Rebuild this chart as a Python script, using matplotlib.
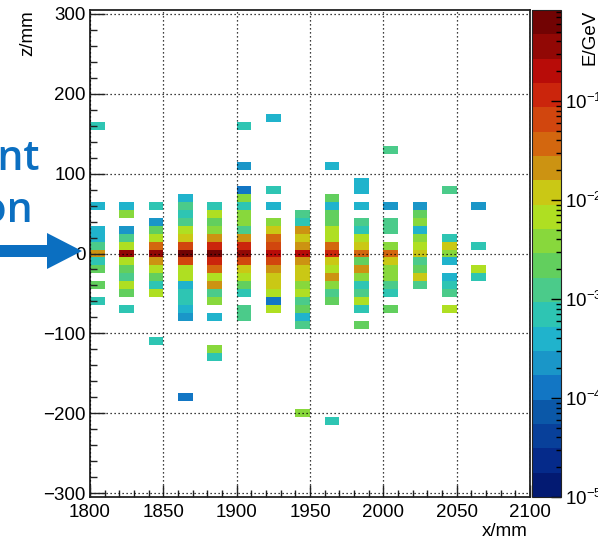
import numpy as np
import matplotlib
matplotlib.use("Agg")
import matplotlib.pyplot as plt
from matplotlib.colors import ListedColormap, LogNorm
from matplotlib.patches import Polygon
from matplotlib.ticker import MultipleLocator

plt.rcParams["font.family"] = ["Liberation Sans", "DejaVu Sans"]
plt.rcParams["mathtext.default"] = "regular"

# ---- energy deposits per detector layer: (z [mm], E [GeV]) ----
layer_x = [1805, 1825, 1845, 1865, 1885, 1905, 1925,
           1945, 1965, 1985, 2005, 2025, 2045, 2065]

hit_z = [
    [160, 60, 30, 20, 10, 0, -10, -20, -40, -60],
    [60, 50, 30, 20, 10, 0, -10, -20, -30, -40, -50, -70],
    [60, 40, 30, 20, 10, 0, -10, -20, -30, -40, -50, -110],
    [70, 60, 50, 40, 30, 20, 10, 0, -10, -20, -30, -40, -50, -60, -70, -80, -180],
    [60, 50, 40, 30, 20, 10, 0, -10, -20, -30, -40, -50, -60, -80, -120, -130],
    [160, 110, 80, 70, 60, 50, 40, 30, 20, 10, 0, -10, -20, -30, -40, -50, -70, -80],
    [170, 80, 60, 40, 30, 20, 10, 0, -10, -20, -30, -40, -50, -60, -70],
    [50, 40, 30, 20, 10, 0, -10, -20, -30, -40, -50, -60, -70, -80, -90, -200],
    [110, 70, 60, 50, 40, 30, 20, 10, 0, -10, -20, -30, -40, -50, -60, -210],
    [90, 80, 60, 40, 30, 20, 10, 0, -10, -20, -30, -40, -50, -60, -70, -90],
    [130, 60, 40, 30, 10, 0, -10, -20, -30, -40, -50, -70],
    [60, 50, 40, 30, 20, 10, 0, -10, -20, -30, -40],
    [80, 20, 10, 0, -10, -30, -40, -50, -70],
    [60, 10, -20, -30],
]

hit_e = [
    [7.0e-4, 4.0e-4, 4.0e-4, 4.2e-4, 1.2e-3, 2.1e-2, 7.0e-4, 2.2e-3, 2.1e-3, 7.0e-4],
    [4.1e-4, 3.9e-3, 2.4e-4, 1.3e-3, 6.5e-3, 0.38, 6.8e-3, 2.1e-3, 1.2e-3, 6.4e-3, 2.2e-3, 7.2e-4],
    [6.9e-4, 2.3e-4, 2.2e-3, 6.9e-3, 3.6e-2, 0.42, 2.0e-2, 6.6e-3, 2.3e-3, 7.1e-4, 6.6e-3, 6.8e-4],
    [4.1e-4, 1.2e-3, 7.0e-4, 1.3e-3, 6.6e-3, 1.2e-2, 6.6e-2, 0.83, 6.3e-2, 6.8e-3, 6.5e-3,
     3.9e-4, 7.1e-4, 6.9e-4, 4.2e-4, 2.2e-4, 1.3e-4],
    [7.0e-4, 6.7e-3, 2.2e-3, 3.9e-3, 2.1e-2, 0.12, 0.70, 0.11, 3.8e-2, 6.6e-3, 2.2e-2,
     1.2e-3, 3.7e-3, 4.0e-4, 3.8e-3, 6.9e-4],
    [7.0e-4, 2.3e-4, 1.3e-4, 3.8e-3, 7.1e-4, 3.7e-3, 3.9e-3, 1.2e-3, 2.1e-2, 0.12, 0.40,
     6.5e-2, 1.2e-2, 6.7e-3, 2.2e-3, 7.0e-4, 1.2e-3, 1.3e-3],
    [4.0e-4, 7.0e-4, 4.1e-4, 3.8e-3, 1.2e-2, 3.7e-2, 6.4e-2, 0.21, 6.6e-2, 2.1e-2, 1.2e-2,
     1.2e-2, 6.7e-3, 1.3e-4, 6.8e-3],
    [1.2e-3, 7.0e-4, 2.1e-2, 1.2e-2, 2.0e-2, 0.20, 2.1e-2, 1.2e-2, 1.1e-2, 3.8e-3, 6.6e-3,
     1.2e-3, 2.2e-3, 4.0e-4, 1.2e-3, 3.8e-3],
    [4.0e-4, 2.2e-3, 4.1e-4, 2.2e-3, 2.1e-3, 6.7e-3, 6.6e-3, 3.7e-2, 0.12, 1.2e-2, 6.7e-3,
     2.1e-2, 3.8e-3, 1.2e-3, 2.2e-3, 7.0e-4],
    [4.0e-4, 4.1e-4, 4.0e-4, 1.2e-3, 7.0e-4, 6.7e-3, 1.2e-2, 3.7e-2, 2.2e-3, 2.1e-2, 3.8e-3,
     7.0e-4, 1.2e-3, 6.6e-3, 7.1e-4, 2.2e-3],
    [1.2e-3, 2.3e-4, 1.2e-3, 1.3e-3, 3.8e-3, 3.7e-2, 1.2e-2, 3.9e-3, 3.7e-3, 1.2e-3, 7.0e-4, 2.2e-3],
    [2.3e-4, 2.2e-3, 3.8e-3, 4.0e-4, 3.9e-3, 6.7e-3, 1.2e-2, 1.2e-3, 2.2e-3, 1.2e-2, 1.2e-3],
    [1.2e-3, 7.0e-4, 1.2e-2, 3.8e-3, 4.0e-4, 4.1e-4, 7.0e-4, 1.2e-3, 6.7e-3],
    [2.3e-4, 7.0e-4, 6.7e-3, 7.0e-4],
]

x_tick_labels = ["1800", "1850", "1900", "1950", "2000", "2050", "2100"]
z_tick_labels = ["\u2212300", "\u2212200", "\u2212100", "0", "100", "200", "300"]

# 20-step rainbow palette (low -> high)
palette = ["#031a72", "#052a8a", "#08409a", "#0b58a8", "#1276c4", "#1a96c8",
           "#20b3cc", "#2ec5b3", "#4bcb8a", "#62cf5e", "#88d83c", "#afdf22",
           "#cac815", "#cc9312", "#d3670f", "#d1460e", "#cb250c", "#b80c08",
           "#920805", "#720303"]
cmap = ListedColormap(palette)
cmap.set_bad((1, 1, 1, 0))

# ---- binning ----
x_edges = np.arange(1800, 2100 + 1, 10)
z_edges = np.arange(-305, 305 + 1, 10)

xs = np.concatenate([[x] * len(z) for x, z in zip(layer_x, hit_z)])
zs = np.concatenate(hit_z)
es = np.concatenate(hit_e)
H, _, _ = np.histogram2d(xs, zs, bins=[x_edges, z_edges], weights=es)
H = np.ma.masked_less_equal(H, 0)

W, Hpx = 598, 541
fig = plt.figure(figsize=(W / 100, Hpx / 100), dpi=100)


def fx(px):
    return px / W


def fy(py):
    return 1 - py / Hpx


ax = fig.add_axes([fx(90), fy(497), fx(530) - fx(90), fy(10) - fy(497)])
norm = LogNorm(vmin=1e-5, vmax=es.max())
mesh = ax.pcolormesh(x_edges, z_edges, H.T, cmap=cmap, norm=norm,
                     edgecolors="none", antialiased=False)

ax.set_xlim(1800, 2100)
ax.set_ylim(-305, 305)
ax.set_xticks(np.arange(1800, 2101, 50), x_tick_labels)
ax.set_yticks(np.arange(-300, 301, 100), z_tick_labels)
ax.xaxis.set_minor_locator(MultipleLocator(10))
ax.yaxis.set_minor_locator(MultipleLocator(20))
ax.tick_params(axis="both", which="both", direction="in", top=False, right=False,
               labelsize=13.5, width=1.0, color="#222222")
ax.tick_params(axis="x", which="major", length=9, pad=5)
ax.tick_params(axis="x", which="minor", length=5)
ax.tick_params(axis="y", which="major", length=10.5, pad=3)
ax.tick_params(axis="y", which="minor", length=5)
for sp in ax.spines.values():
    sp.set_linewidth(1.3)
    sp.set_color("#222222")
ax.set_axisbelow(False)
ax.grid(True, which="major", color="black", linestyle=(0, (1, 2.2)), linewidth=0.9)

# ---- colour scale ----
cax = fig.add_axes([fx(532), fy(497), fx(561) - fx(532), fy(10) - fy(497)])
cb = fig.colorbar(mesh, cax=cax)
cb.outline.set_linewidth(0.8)
cb.outline.set_edgecolor("#222222")
cax.tick_params(which="both", direction="in", right=True, left=False,
                labelsize=13.5, width=1.0, color="black")
cax.tick_params(which="major", length=7.5, pad=3)
cax.tick_params(which="minor", length=3.5)

# ---- axis titles ----
fig.text(fx(528), fy(540), "x/mm", ha="right", va="bottom", fontsize=13.5)
fig.text(fx(28), fy(10), "z/mm", ha="center", va="top", rotation=90, fontsize=13.5)
fig.text(fx(590), fy(10), "E/GeV", ha="center", va="top", rotation=90, fontsize=13.5)

# ---- beam annotation ----
blue = "#0b6fc1"
fig.text(fx(40), fy(170), "incident", ha="right", va="baseline", fontsize=29.5,
         color=blue, family=["Open Sans", "DejaVu Sans"], fontweight="semibold")
fig.text(fx(33.5), fy(222), "position", ha="right", va="baseline", fontsize=29.5,
         color=blue, family=["Open Sans", "DejaVu Sans"], fontweight="semibold")
arrow_px = [(-5, 245), (47, 245), (47, 233), (82, 251), (47, 269), (47, 257), (-5, 257)]
fig.add_artist(Polygon([(fx(a), fy(b)) for a, b in arrow_px], closed=True,
                       transform=fig.transFigure, facecolor=blue, edgecolor="none"))

fig.savefig("out.png", dpi=100)
